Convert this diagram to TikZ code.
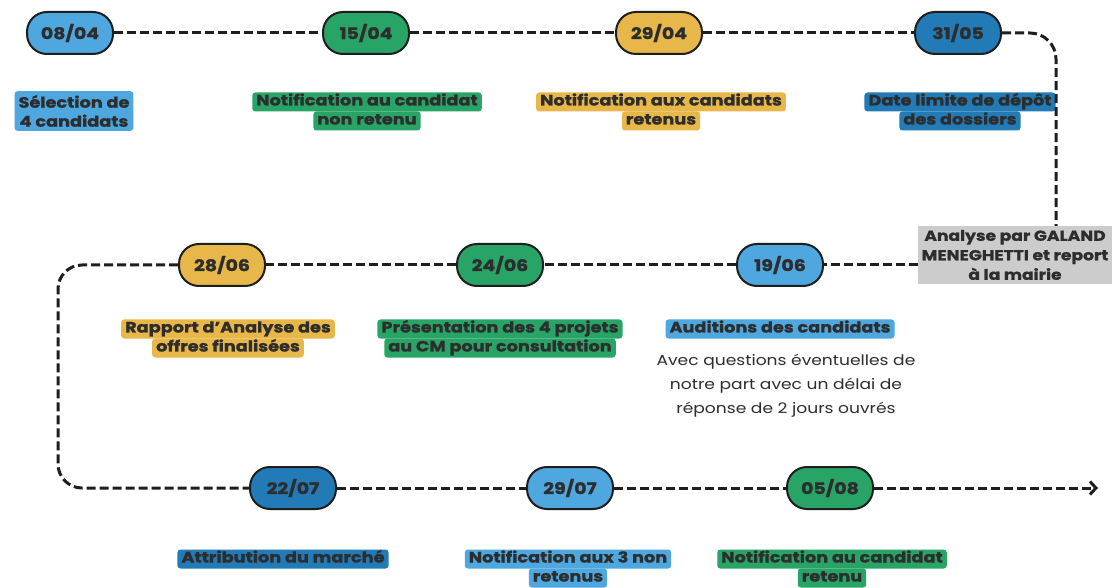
\documentclass[tikz,border=0pt]{standalone}
\usepackage{fontspec}
\setmainfont{Poppins}[FakeStretch=1.18, BoldFeatures={FakeBold=1.2}]
\usetikzlibrary{arrows.meta}
\definecolor{lblue}{RGB}{78,167,222}
\definecolor{dblue}{RGB}{34,122,182}
\definecolor{grn}{RGB}{40,165,102}
\definecolor{gold}{RGB}{232,183,74}
\definecolor{gry}{RGB}{204,204,204}
\definecolor{txt}{RGB}{45,45,45}
\definecolor{linec}{RGB}{30,30,30}
\begin{document}
\begin{tikzpicture}[x=1pt,y=-1pt,
  pill/.style={draw=linec, line width=2pt, rounded corners=20pt, minimum width=86pt,
    minimum height=42pt, inner sep=0pt, text=txt, font=\fontsize{16}{18}\selectfont\bfseries},
  hlbase/.style={rounded corners=3pt, inner xsep=4pt, inner ysep=2pt,
    text=txt, font=\fontsize{15}{19}\selectfont\bfseries, align=center},
  hl/.style={hlbase, text height=11pt, text depth=4pt},
  conn/.style={draw=linec, line width=3pt, dash pattern=on 9pt off 4pt}]
\path[use as bounding box, fill=white] (0,0) rectangle (1120,588);

% ---- row 1 ----
\node[pill, fill=lblue] (d1) at (70,33) {08/04};
\node[pill, fill=grn] (d2) at (366,33) {15/04};
\node[pill, fill=gold] (d3) at (659,33) {29/04};
\node[pill, fill=dblue] (d4) at (958,33) {31/05};

\node[hlbase, fill=lblue, inner ysep=4pt] (l1) at (74,111) {Sélection de\\4 candidats};
\node[hl, fill=grn] (l2a) at (367,102) {Notification au candidat};
\node[hl, fill=grn] (l2b) at (367,121) {non retenu};
\node[hl, fill=gold] (l3a) at (661,102) {Notification aux candidats};
\node[hl, fill=gold] (l3b) at (661,121) {retenus};
\node[hl, fill=dblue] (l4a) at (960,102) {Date limite de dépôt};
\node[hl, fill=dblue] (l4b) at (960,121) {des dossiers};

% ---- row 2 ----
\node[fill=gry, text=txt, align=center, inner xsep=4pt, inner ysep=4pt,
  font=\fontsize{14.5}{19.5}\selectfont\bfseries] (an) at (1015,255)
  {Analyse par GALAND\\MENEGHETTI et report\\à la mairie};
\node[pill, fill=lblue] (d5) at (780,265) {19/06};
\node[pill, fill=grn] (d6) at (500,265) {24/06};
\node[pill, fill=gold] (d7) at (222,265) {28/06};

\node[hl, fill=gold] (l7a) at (228,329) {Rapport d’Analyse des};
\node[hl, fill=gold] (l7b) at (228,348) {offres finalisées};
\node[hl, fill=grn] (l6a) at (500,329) {Présentation des 4 projets};
\node[hl, fill=grn] (l6b) at (500,348) {au CM pour consultation};
\node[hl, fill=lblue] (l5a) at (780,329) {Auditions des candidats};
\node[text=txt, align=center, font=\fontsize{14.5}{24}\selectfont] (desc) at (786,386)
  {Avec questions éventuelles de\\notre part avec un délai de\\réponse de 2 jours ouvrés};

% ---- row 3 ----
\node[pill, fill=dblue] (d8) at (293,488) {22/07};
\node[pill, fill=lblue] (d9) at (570,488) {29/07};
\node[pill, fill=grn] (d10) at (830,488) {05/08};

\node[hl, fill=dblue] (l8a) at (283,559) {Attribution du marché};
\node[hl, fill=lblue] (l9a) at (568,559) {Notification aux 3 non};
\node[hl, fill=lblue] (l9b) at (568,578) {retenus};
\node[hl, fill=grn] (l10a) at (832,559) {Notification au candidat};
\node[hl, fill=grn] (l10b) at (832,578) {retenu};

% ---- connectors ----
\coordinate (c1) at (1056,33);
\coordinate (c2) at (58,265);
\coordinate (c3) at (58,488);
\coordinate (fin) at (1098,488);
\draw[conn] (d1) -- (d2);
\draw[conn] (d2) -- (d3);
\draw[conn] (d3) -- (d4);
\draw[conn, rounded corners=26pt] (d4) -- (c1) -- (an.north -| c1);
\draw[conn] (an.west |- d5) -- (d5);
\draw[conn] (d5) -- (d6);
\draw[conn] (d6) -- (d7);
\draw[conn, rounded corners=24pt] (d7) -- (c2) -- (c3) -- (d8);
\draw[conn] (d8) -- (d9);
\draw[conn] (d9) -- (d10);
\draw[conn, -{Straight Barb[length=6pt,width=13pt]}] (d10) -- (fin);
\end{tikzpicture}
\end{document}
